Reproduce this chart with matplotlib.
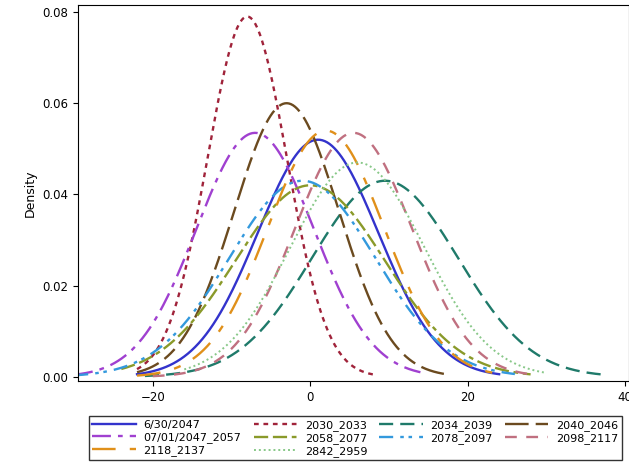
import numpy as np
import matplotlib.pyplot as plt

labels = ["6/30/2047", "2030_2033", "2034_2039", "2040_2046",
          "07/01/2047_2057", "2058_2077", "2078_2097", "2098_2117",
          "2118_2137", "2842_2959"]
means = [1, -8, 9.5, -3, -7, 0, -1, 5.5, 2, 6]
peaks = [0.052, 0.079, 0.043, 0.060, 0.0535, 0.042, 0.043, 0.0535, 0.054, 0.047]
lows = [-22, -22, -21, -22, -30, -24, -30, -20, -22, -16]
highs = [24, 8, 37, 17, 14, 28, 26, 28, 24, 30]
colors = ["#3333cc", "#a0233a", "#1f7a6a", "#6b4a1f", "#a040d0",
          "#8a9a2a", "#3399dd", "#c07080", "#e0901a", "#88c888"]
styles = ["-", (0, (2, 2)), (0, (6, 3)), (0, (10, 3, 6, 3)), (0, (8, 3, 2, 3)),
          (0, (6, 2, 6, 2, 2, 2)), (0, (6, 3, 1.5, 2, 1.5, 3)), (0, (5, 4)),
          (0, (10, 6, 3, 6)), (0, (1, 1.5))]

fig = plt.figure(figsize=(6.29, 4.68), dpi=100)
ax = fig.add_axes([0.124, 0.186, 0.876, 0.803])
lines = []
for lab, m, p, lo, hi, c, ls in zip(labels, means, peaks, lows, highs, colors, styles):
    sd = 1 / (p * np.sqrt(2 * np.pi))
    x = np.linspace(lo, hi, 300)
    y = np.exp(-0.5 * ((x - m) / sd) ** 2) / (sd * np.sqrt(2 * np.pi))
    ln, = ax.plot(x, y, color=c, linestyle=ls, lw=1.7 if ls != (0, (1, 1.5)) else 1.4, label=lab)
    lines.append(ln)

ax.set_xlim(-29.5, 40.5)
ax.set_ylim(-0.0009, 0.0815)
ax.set_xticks([-20, 0, 20, 40])
ax.set_yticks([0, 0.02, 0.04, 0.06, 0.08])
ax.set_yticklabels(["0.00", "0.02", "0.04", "0.06", "0.08"])
ax.set_ylabel("Density", fontsize=9)
ax.tick_params(labelsize=8.5)

# matplotlib fills legend columns first, reorder so it reads row by row
order = [0, 4, 8, 1, 5, 9, 2, 6, 3, 7]
fig.legend([lines[i] for i in order], [labels[i] for i in order],
           loc="lower center", bbox_to_anchor=(0.565, 0.005), ncol=4, fontsize=8,
           frameon=True, fancybox=False, edgecolor="black", handlelength=3.9,
           columnspacing=1.1, handletextpad=0.7, labelspacing=0.2, borderpad=0.3)
fig.savefig("out.png", dpi=100)
